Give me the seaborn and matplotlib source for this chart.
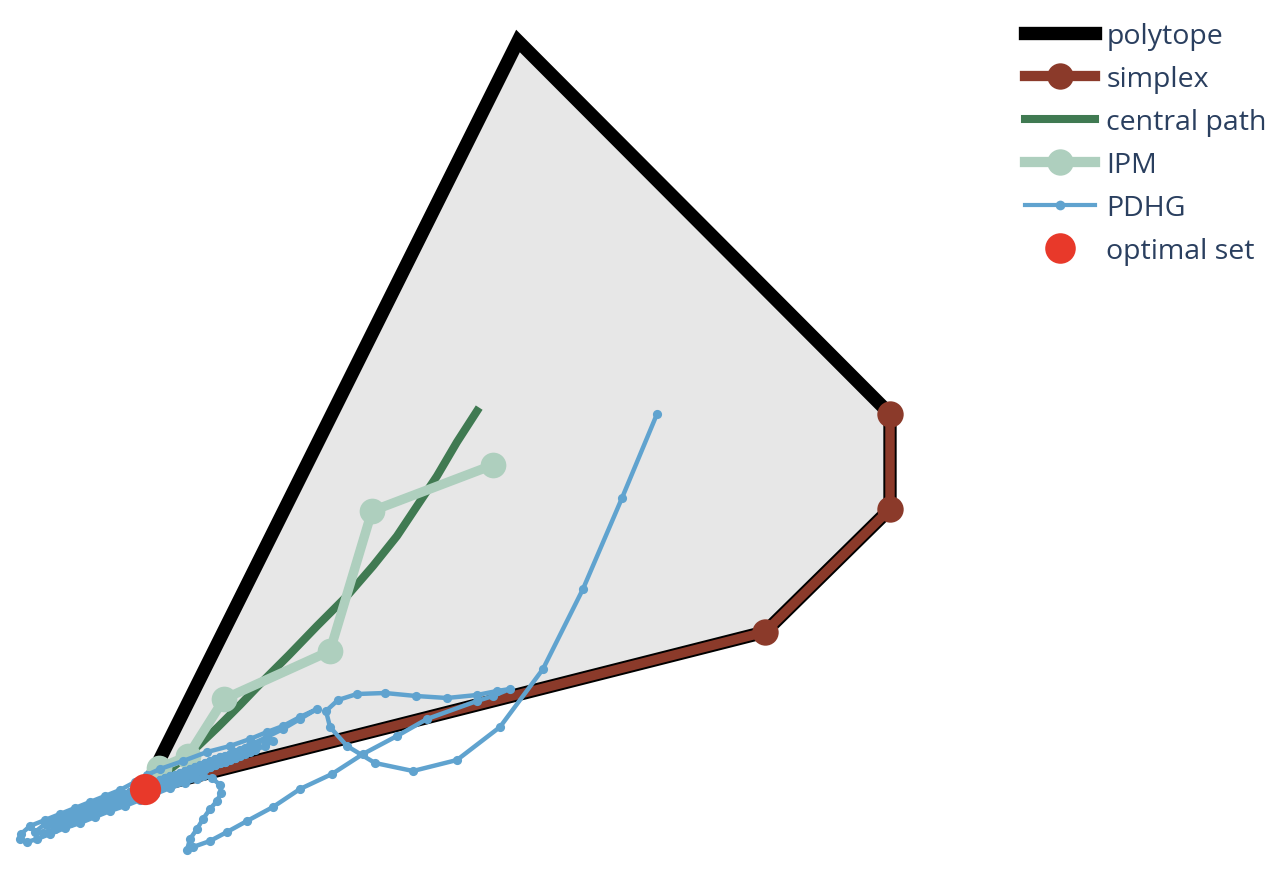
import matplotlib
matplotlib.use("Agg")
import matplotlib.pyplot as plt
from matplotlib.lines import Line2D
import pandas as pd
import seaborn as sns

# polytope (closed at the optimal vertex)
poly_x = [0.00, 3.73, 7.45, 7.45, 6.20, 0.00]
poly_y = [0.00, 7.48, 3.75, 2.80, 1.57, 0.00]

# simplex vertex walk
simplex_x = [7.45, 7.45, 6.20, 0.00]
simplex_y = [3.75, 2.80, 1.57, 0.00]

# central path
central_x = [3.32, 3.12, 2.92, 2.72, 2.52, 2.28, 2.02, 1.72, 1.44, 1.17, 0.95, 0.73, 0.52, 0.33, 0.15, 0.00]
central_y = [3.78, 3.47, 3.13, 2.83, 2.53, 2.23, 1.93, 1.63, 1.34, 1.07, 0.84, 0.62, 0.42, 0.26, 0.12, 0.00]

# interior point iterates
ipm_x = [3.48, 2.27, 1.85, 0.79, 0.43, 0.14, 0.00]
ipm_y = [3.24, 2.78, 1.38, 0.90, 0.33, 0.21, 0.00]

# PDHG iterates: first swing, loop, arc and hook
pdhg_swing_x = [5.12, 4.77, 4.38, 3.98, 3.55, 3.12, 2.68, 2.30, 2.02, 1.85, 1.81, 1.93, 2.12, 2.40,
                2.71, 3.02, 3.32, 3.52, 3.65, 3.48, 3.32, 2.82, 2.52, 2.18, 1.87, 1.55, 1.28, 1.02,
                0.82, 0.65, 0.48, 0.42, 0.45, 0.52, 0.58, 0.65, 0.72, 0.76, 0.75, 0.67, 0.58, 0.52]
pdhg_swing_y = [3.75, 2.91, 2.00, 1.20, 0.62, 0.29, 0.18, 0.26, 0.43, 0.62, 0.78, 0.89, 0.95, 0.96,
                0.93, 0.91, 0.94, 0.98, 1.00, 0.93, 0.88, 0.70, 0.53, 0.35, 0.15, 0.00, -0.18, -0.32,
                -0.43, -0.52, -0.58, -0.61, -0.50, -0.40, -0.30, -0.20, -0.12, -0.04, 0.04, 0.11, 0.13, 0.10]

# oscillation along the optimal edge, pass by pass
pass1_x = [0.40, 0.25, 0.10, -0.05, -0.20, -0.35, -0.50, -0.65, -0.80, -0.95, -1.08, -1.18, -1.25, -1.24]
pass1_y = [0.06, 0.01, -0.05, -0.11, -0.17, -0.22, -0.28, -0.34, -0.39, -0.45, -0.50, -0.53, -0.50, -0.45]
pass2_x = [-1.15, -1.00, -0.85, -0.70, -0.55, -0.40, -0.25, -0.10, 0.02, 0.15, 0.38, 0.62, 0.85, 1.05,
           1.22, 1.38, 1.55, 1.72]
pass2_y = [-0.37, -0.31, -0.25, -0.19, -0.13, -0.07, -0.01, 0.07, 0.14, 0.20, 0.28, 0.37, 0.43, 0.50,
           0.57, 0.63, 0.72, 0.80]
pass3_x = [1.55, 1.38, 1.22, 1.05, 0.90, 0.75, 0.60, 0.45, 0.30, 0.15, 0.00, -0.15, -0.30, -0.45, -0.60,
           -0.75, -0.90, -1.02, -1.10]
pass3_y = [0.70, 0.60, 0.52, 0.44, 0.37, 0.30, 0.23, 0.16, 0.09, 0.03, -0.04, -0.10, -0.16, -0.22, -0.28,
           -0.34, -0.40, -0.44, -0.43]
pass4_x = [-1.0, -0.9, -0.8, -0.7, -0.6, -0.5, -0.4, -0.3, -0.2, -0.1, 0.0, 0.1, 0.2, 0.3, 0.4, 0.5,
           0.6, 0.7, 0.8, 0.9, 1.0, 1.1, 1.2, 1.28]
pass4_y = [-0.35, -0.31, -0.27, -0.24, -0.20, -0.16, -0.12, -0.08, -0.05, -0.01, 0.03, 0.07, 0.11, 0.14,
           0.18, 0.22, 0.26, 0.30, 0.33, 0.37, 0.41, 0.45, 0.49, 0.48]
pass5_x = [1.2, 1.1, 1.0, 0.9, 0.8, 0.7, 0.6, 0.5, 0.4, 0.3, 0.2, 0.1, 0.0, -0.1, -0.2, -0.3, -0.4,
           -0.5, -0.6, -0.7, -0.8, -0.9, -0.98]
pass5_y = [0.43, 0.39, 0.35, 0.31, 0.27, 0.24, 0.20, 0.16, 0.12, 0.08, 0.05, 0.01, -0.03, -0.07, -0.11,
           -0.14, -0.18, -0.22, -0.26, -0.30, -0.33, -0.37, -0.36]
pass6_x = [-0.85, -0.75, -0.65, -0.55, -0.45, -0.35, -0.25, -0.15, -0.05, 0.05, 0.15, 0.25, 0.35, 0.45,
           0.55, 0.65, 0.75, 0.85, 0.95, 1.05, 1.12]
pass6_y = [-0.29, -0.26, -0.22, -0.18, -0.14, -0.10, -0.07, -0.03, 0.01, 0.05, 0.09, 0.13, 0.16, 0.20,
           0.24, 0.28, 0.32, 0.35, 0.39, 0.43, 0.43]
pass7_x = [1.05, 0.95, 0.85, 0.75, 0.65, 0.55, 0.45, 0.35, 0.25, 0.15, 0.05, -0.05, -0.15, -0.25, -0.35,
           -0.45, -0.55, -0.65, -0.75, -0.82]
pass7_y = [0.37, 0.33, 0.29, 0.26, 0.22, 0.18, 0.14, 0.10, 0.07, 0.03, -0.01, -0.05, -0.09, -0.13, -0.16,
           -0.20, -0.24, -0.28, -0.32, -0.30]
pass8_x = [-0.7, -0.6, -0.5, -0.4, -0.3, -0.2, -0.1, 0.0, 0.1, 0.2, 0.3, 0.4, 0.5, 0.6, 0.7, 0.8, 0.9, 0.98]
pass8_y = [-0.24, -0.20, -0.16, -0.12, -0.08, -0.05, -0.01, 0.03, 0.07, 0.11, 0.14, 0.18, 0.22, 0.26,
           0.30, 0.33, 0.37, 0.37]
pass9_x = [0.9, 0.8, 0.7, 0.6, 0.5, 0.4, 0.3, 0.2, 0.1, 0.0, -0.1, -0.2, -0.3, -0.4, -0.5, -0.6, -0.68]
pass9_y = [0.31, 0.27, 0.24, 0.20, 0.16, 0.12, 0.08, 0.05, 0.01, -0.03, -0.07, -0.11, -0.14, -0.18,
           -0.22, -0.26, -0.26]
pass10_x = [-0.55, -0.45, -0.35, -0.25, -0.15, -0.05, 0.05, 0.15, 0.25, 0.35, 0.45, 0.55, 0.65, 0.75, 0.82]
pass10_y = [-0.18, -0.14, -0.10, -0.07, -0.03, 0.01, 0.05, 0.09, 0.13, 0.16, 0.20, 0.24, 0.28, 0.32, 0.31]
pass11_x = [0.75, 0.65, 0.55, 0.45, 0.35, 0.25, 0.15, 0.05, -0.05, -0.15, -0.25, -0.35, -0.45, -0.52]
pass11_y = [0.26, 0.22, 0.18, 0.14, 0.10, 0.07, 0.03, -0.01, -0.05, -0.09, -0.13, -0.16, -0.20, -0.20]
pass12_x = [-0.4, -0.3, -0.2, -0.1, 0.0, 0.1, 0.2, 0.3, 0.4, 0.5, 0.58]
pass12_y = [-0.12, -0.08, -0.05, -0.01, 0.03, 0.07, 0.11, 0.14, 0.18, 0.22, 0.22]
pass13_x = [0.5, 0.4, 0.3, 0.2, 0.1, 0.0, -0.1, -0.2, -0.3, -0.38]
pass13_y = [0.16, 0.12, 0.08, 0.05, 0.01, -0.03, -0.07, -0.11, -0.14, -0.14]
pass14_x = [-0.25, -0.15, -0.05, 0.05, 0.15, 0.25, 0.35, 0.40]
pass14_y = [-0.07, -0.03, 0.01, 0.05, 0.09, 0.13, 0.16, 0.15]
pass15_x = [0.25, 0.15, 0.05, -0.05, -0.15, -0.22]
pass15_y = [0.07, 0.03, -0.01, -0.05, -0.09, -0.08]
pass16_x = [-0.10, 0.00, 0.10, 0.05, 0.00]
pass16_y = [-0.01, 0.03, 0.05, 0.01, 0.00]

pdhg_x = (pdhg_swing_x + pass1_x + pass2_x + pass3_x + pass4_x + pass5_x + pass6_x + pass7_x + pass8_x
          + pass9_x + pass10_x + pass11_x + pass12_x + pass13_x + pass14_x + pass15_x + pass16_x)
pdhg_y = (pdhg_swing_y + pass1_y + pass2_y + pass3_y + pass4_y + pass5_y + pass6_y + pass7_y + pass8_y
          + pass9_y + pass10_y + pass11_y + pass12_y + pass13_y + pass14_y + pass15_y + pass16_y)

optimal_x = [0.00]
optimal_y = [0.00]

C_FILL = "#e7e7e7"
C_SIMPLEX = "#8b3a2a"
C_CENTRAL = "#407a52"
C_IPM = "#aecfbe"
C_PDHG = "#60a3cf"
C_OPT = "#e8392a"

fig = plt.figure(figsize=(12.88, 8.70), dpi=100)
ax = fig.add_axes([0, 0, 1, 1])

poly = pd.DataFrame({"x": poly_x, "y": poly_y})
ax.fill(poly["x"], poly["y"], color=C_FILL, lw=0, zorder=1)
sns.lineplot(data=poly, x="x", y="y", sort=False, estimator=None, color="black",
             linewidth=9.6, solid_joinstyle="miter", solid_capstyle="butt", ax=ax, zorder=2)

sns.lineplot(x=simplex_x, y=simplex_y, sort=False, estimator=None, color=C_SIMPLEX,
             linewidth=6.8, marker="o", markersize=19, markeredgewidth=0, ax=ax, zorder=3)

sns.lineplot(x=central_x, y=central_y, sort=False, estimator=None, color=C_CENTRAL,
             linewidth=5.8, ax=ax, zorder=4)

sns.lineplot(x=ipm_x, y=ipm_y, sort=False, estimator=None, color=C_IPM,
             linewidth=6.8, marker="o", markersize=18.5, markeredgewidth=0, ax=ax, zorder=5)

pdhg = pd.DataFrame({"x": pdhg_x, "y": pdhg_y})
sns.lineplot(data=pdhg, x="x", y="y", sort=False, estimator=None, color=C_PDHG,
             linewidth=3.2, marker="o", markersize=6.6, markeredgewidth=0, ax=ax, zorder=6)

sns.scatterplot(x=optimal_x, y=optimal_y, color=C_OPT, s=22.5 ** 2, linewidth=0, ax=ax, zorder=7)

ax.set_xlim(-1.45, 11.43)
ax.set_ylim(-0.80, 7.90)
ax.axis("off")

handles = [
    Line2D([], [], color="black", lw=9.6),
    Line2D([], [], color=C_SIMPLEX, lw=7.4, marker="o", markersize=19, markeredgewidth=0),
    Line2D([], [], color=C_CENTRAL, lw=5.8),
    Line2D([], [], color=C_IPM, lw=7.4, marker="o", markersize=19, markeredgewidth=0),
    Line2D([], [], color=C_PDHG, lw=3.0, marker="o", markersize=7, markeredgewidth=0),
    Line2D([], [], color=C_OPT, lw=0, marker="o", markersize=22, markeredgewidth=0),
]
labels = ["polytope", "simplex", "central path", "IPM", "PDHG", "optimal set"]
leg = ax.legend(handles, labels, loc="upper left", bbox_to_anchor=(1025 / 1288, 1 - 23 / 870),
                frameon=False, borderpad=0, borderaxespad=0, handlelength=2.46, handletextpad=0.39,
                labelspacing=0.53, prop={"family": "Open Sans", "size": 20.5})
for t in leg.get_texts():
    t.set_color("#2a3f5f")

fig.savefig("out.png", dpi=100)
